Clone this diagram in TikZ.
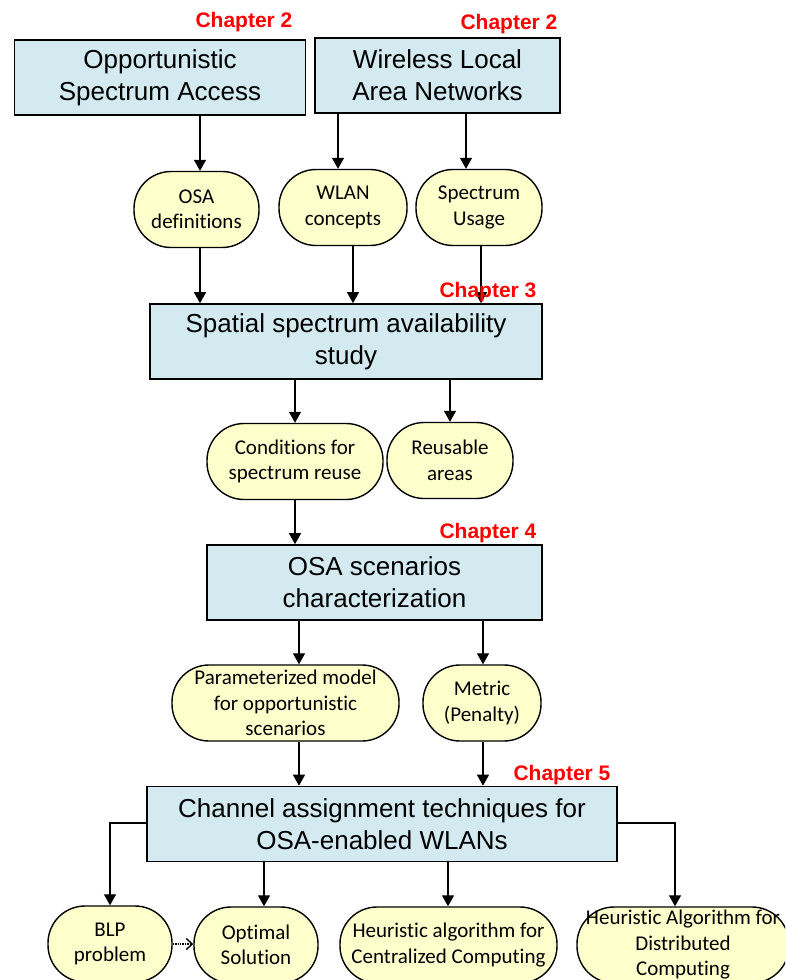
\documentclass[tikz,border=0pt]{standalone}
\usepackage{fontspec}
\setmainfont{Liberation Sans}
\newfontfamily\calfont[Ligatures=NoCommon]{Carlito}
\usetikzlibrary{arrows.meta}
\definecolor{boxblue}{RGB}{210,234,240}
\definecolor{ovalyellow}{RGB}{255,255,204}
\definecolor{chapred}{RGB}{255,0,0}

\begin{document}
\begin{tikzpicture}[x=1pt,y=-1pt,
  topic/.style={draw=black, line width=1.6pt, fill=boxblue, minimum width=#1,
    minimum height=75pt, inner sep=0pt, align=center,
    font=\fontsize{26}{32}\selectfont},
  item/.style={draw=black, line width=1.4pt, fill=ovalyellow, rounded corners=37pt,
    minimum width=#1, minimum height=76pt, inner sep=0pt, align=center,
    font=\calfont\fontsize{21}{25.5}\selectfont},
  chap/.style={text=chapred, inner sep=0pt, font=\bfseries\fontsize{21}{25}\selectfont},
  arr/.style={line width=1.3pt, -{Triangle[length=11pt,width=12pt]}},
  dotarr/.style={line width=1.4pt, densely dotted, -{Straight Barb[length=6pt,width=11pt]}}]

\clip (0,0) rectangle (785,980);
\fill[white] (0,0) rectangle (785,980);

% background topics
\node[topic=291pt] (osa)  at (160,77.5)  {Opportunistic\\Spectrum Access};
\node[topic=245pt] (wlan) at (437.5,75.5) {Wireless Local\\Area Networks};
\node[chap] (c2a) at (244,22) {Chapter 2};
\node[chap] (c2b) at (509,24) {Chapter 2};

% inputs from the background
\node[item=125pt] (defs) at (196.5,209.5) {OSA\\definitions};
\node[item=128pt] (wc)   at (343,207.5)   {WLAN\\concepts};
\node[item=126pt] (su)   at (479,207.5)   {Spectrum\\Usage};

\draw[arr] (osa.south -| 200,0) -- (defs.north -| 200,0);
\draw[arr] (wlan.south -| 338,0) -- (wc.north -| 338,0);
\draw[arr] (wlan.south -| 466,0) -- (su.north -| 466,0);

% chapter 3
\node[topic=392pt] (spatial) at (346,341.5) {Spatial spectrum availability\\study};
\draw[arr] (defs.south -| 200,0) -- (spatial.north -| 200,0);
\draw[arr] (wc.south -| 353,0) -- (spatial.north -| 353,0);
\draw[arr] (su.south -| 481,0) -- (spatial.north -| 481,0);
\node[chap] (c3) at (488,292) {Chapter 3};

\node[item=176pt] (cond)  at (295,461.5) {Conditions for\\spectrum reuse};
\node[item=126pt] (reuse) at (450,460.5) {Reusable\\areas};
\draw[arr] (spatial.south -| 295,0) -- (cond.north -| 295,0);
\draw[arr] (spatial.south -| 450,0) -- (reuse.north -| 450,0);

% chapter 4
\node[topic=335pt] (scen) at (374.5,582.5) {OSA scenarios\\characterization};
\draw[arr] (cond.south -| 295,0) -- (scen.north -| 295,0);
\node[chap] (c4) at (488,533) {Chapter 4};

\node[item=227pt] (param)  at (285.5,703) {Parameterized model\\for opportunistic\\scenarios};
\node[item=118pt] (metric) at (482,703)   {Metric\\(Penalty)};
\draw[arr] (scen.south -| 299,0) -- (param.north -| 299,0);
\draw[arr] (scen.south -| 483,0) -- (metric.north -| 483,0);

% chapter 5
\node[topic=470pt] (chan) at (382,824) {Channel assignment techniques for\\OSA-enabled WLANs};
\draw[arr] (param.south -| 299,0) -- (chan.north -| 299,0);
\draw[arr] (metric.south -| 483,0) -- (chan.north -| 483,0);
\node[chap] (c5) at (562,775) {Chapter 5};

\node[item=124pt] (blp)  at (110,944)   {BLP\\problem};
\node[item=124pt] (opt)  at (256,945)   {Optimal\\Solution};
\node[item=217pt] (cent) at (448.5,945) {Heuristic algorithm for\\Centralized Computing};
\node[item=212pt] (dist) at (683,945)   {Heuristic Algorithm for\\Distributed\\Computing};

\draw[arr] (chan.west |- 0,823) -| (blp.north);
\draw[arr] (chan.south -| 264,0) -- (opt.north -| 264,0);
\draw[arr] (chan.south -| 448,0) -- (cent.north -| 448,0);
\draw[arr] (chan.east |- 0,823) -| (dist.north -| 675,0);
\draw[dotarr] (blp.east) -- (blp.east -| opt.west);
\end{tikzpicture}
\end{document}
